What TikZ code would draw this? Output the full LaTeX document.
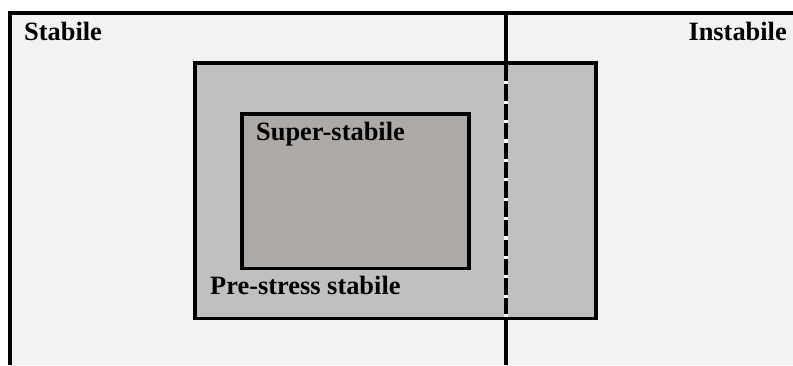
\documentclass[tikz,border=0pt]{standalone}
\usepackage{fontspec}
\setmainfont{Liberation Serif}
\definecolor{bgGray}{RGB}{242,242,242}
\definecolor{preGray}{RGB}{192,192,192}
\definecolor{superGray}{RGB}{173,169,167}
\tikzset{
  frameline/.style={line width=4pt},
  boxline/.style={line width=3.8pt},
  lbl/.style={inner sep=0pt, anchor=base west, font=\fontsize{26.4}{30}\selectfont\bfseries},
}
\begin{document}
\begin{tikzpicture}[x=1pt,y=1pt]
\useasboundingbox (0,0) rectangle (793,365);
% background region
\fill[bgGray] (10,0) rectangle (793,352);
% pre-stress stabile box
\draw[boxline, fill=preGray] (195,46.5) rectangle (596,302);
% super-stabile box
\draw[boxline, fill=superGray] (242,96.5) rectangle (469,251);
% outer frame
\draw[frameline] (10,0) -- (10,354) ;
\draw[frameline] (8,352) -- (793,352);
% divider
\coordinate (dtop) at (506,352);
\coordinate (dbot) at (506,0);
\coordinate (pbt) at (506,300);
\coordinate (pbb) at (506,46.5);
\draw[frameline] (dtop) -- (pbt);
\draw[frameline] (pbb) -- (dbot);
\draw[line width=4pt, white] (pbt) -- (pbb);
\draw[line width=4pt, black, dash pattern=on 16.2pt off 3.2pt] (pbt) -- (pbb);
% labels
\node[lbl] (stab) at (24,324.3) {Stabile};
\node[lbl, anchor=base east] (instab) at (787,324.3) {Instabile};
\node[lbl] (super) at (256,225) {Super-stabile};
\node[lbl] (pre) at (210,70.7) {Pre-stress stabile};
\end{tikzpicture}
\end{document}
